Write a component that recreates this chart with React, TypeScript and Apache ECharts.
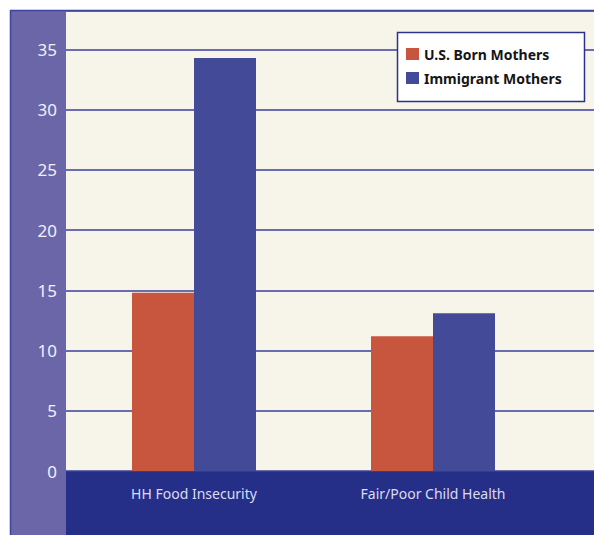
import React, { useEffect, useRef } from "react";
import * as echarts from "echarts";

const categories = ["HH Food Insecurity", "Fair/Poor Child Health"];
const usBorn = [14.8, 11.2];
const immigrant = [34.3, 13.1];
const seriesNames = ["U.S. Born Mothers", "Immigrant Mothers"];
const yMax = 38.2;

const FONT = "'Noto Sans', sans-serif";

export default function App() {
  const ref = useRef<HTMLDivElement>(null);
  useEffect(() => {
    if (!ref.current) return;
    const chart = echarts.init(ref.current, undefined, { renderer: "svg" });
    chart.setOption({
      animation: false,
      backgroundColor: "#ffffff",
      grid: [
        { left: 66, top: 11, right: 0, bottom: 64, show: true, backgroundColor: "#f7f5ea", borderWidth: 0 },
        { left: 74.5, top: 11, right: 41.5, bottom: 64 },
      ],
      graphic: [
        { type: "rect", z: -10, shape: { x: 10, y: 10, width: 56, height: 525 }, style: { fill: "#6a66a8" } },
        { type: "rect", z: -10, shape: { x: 66, y: 471, width: 528, height: 64 }, style: { fill: "#262f88" } },
        { type: "line", z: 20, shape: { x1: 10, y1: 10.5, x2: 594, y2: 10.5 }, style: { stroke: "#3d43a0", lineWidth: 1.5 } },
        { type: "line", z: 20, shape: { x1: 10.5, y1: 10, x2: 10.5, y2: 535 }, style: { stroke: "#3d43a0", lineWidth: 1.5 } },
        { type: "rect", z: 30, shape: { x: 397.5, y: 32.5, width: 187, height: 69 }, style: { fill: "#ffffff", stroke: "#2e3188", lineWidth: 1.5 } },
      ],
      legend: {
        z: 40,
        orient: "vertical",
        left: 406,
        top: 47,
        padding: 0,
        itemWidth: 13,
        itemHeight: 12,
        itemGap: 10,
        itemStyle: { borderWidth: 0 },
        icon: "rect",
        textStyle: { fontFamily: FONT, fontWeight: "bold", fontSize: 14, color: "#151515", lineHeight: 12 },
        data: seriesNames,
      },
      xAxis: [
        { type: "category", gridIndex: 0, data: categories, show: false },
        {
          type: "category",
          gridIndex: 1,
          data: categories,
          axisLine: { show: false },
          axisTick: { show: false },
          axisLabel: { color: "#dcdcf0", fontFamily: FONT, fontSize: 14, margin: 15 },
        },
      ],
      yAxis: [
        {
          type: "value",
          gridIndex: 0,
          min: 0,
          max: yMax,
          interval: 5,
          axisLine: { show: false },
          axisTick: { show: false },
          axisLabel: {
            color: "#f0f0f8",
            fontFamily: FONT,
            fontSize: 17,
            margin: 9,
            formatter: (v: number) => (v % 5 === 0 && v < yMax ? String(v) : ""),
          },
          splitLine: { lineStyle: { color: "#3b3f98", width: 1.5 } },
        },
        { type: "value", gridIndex: 1, min: 0, max: yMax, interval: 5, show: false, splitLine: { show: false } },
      ],
      series: [
        {
          name: seriesNames[0],
          type: "bar",
          xAxisIndex: 1,
          yAxisIndex: 1,
          data: usBorn,
          barWidth: 62,
          barGap: "0%",
          itemStyle: { color: "#c8553d" },
        },
        {
          name: seriesNames[1],
          type: "bar",
          xAxisIndex: 1,
          yAxisIndex: 1,
          data: immigrant,
          barWidth: 62,
          barGap: "0%",
          itemStyle: { color: "#434a98" },
        },
      ],
    });
    return () => chart.dispose();
  }, []);
  return <div ref={ref} style={{ position: "absolute", left: 0, top: 0, width: 594, height: 535 }} />;
}
